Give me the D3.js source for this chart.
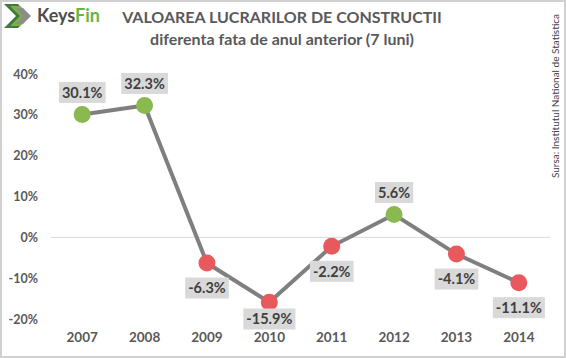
<!DOCTYPE html>
<html>
<head>
<meta charset="utf-8">
<script src="https://cdn.jsdelivr.net/npm/d3@7/dist/d3.min.js"></script>
<style>
  body { margin: 0; background: #fff; }
  text { font-family: Lato, "Open Sans", sans-serif; }
</style>
</head>
<body>
<div id="chart"></div>
<script>
const years = ["2007", "2008", "2009", "2010", "2011", "2012", "2013", "2014"]
const values = [30.1, 32.3, -6.3, -15.9, -2.2, 5.6, -4.1, -11.1]
const labelSide = ["up", "up", "down", "down", "down", "up", "down", "down"]
const yTicks = [-20, -10, 0, 10, 20, 30, 40]

const W = 566, H = 358
const MARGIN = { TOP: 74, BOTTOM: 39, LEFT: 51, RIGHT: 16 }

const svg = d3.select("#chart").append("svg")
  .attr("width", W).attr("height", H)

// frame
svg.append("rect")
  .attr("x", 1).attr("y", 1).attr("width", W - 2).attr("height", H - 2)
  .attr("fill", "#fff").attr("stroke", "#d0d0d0").attr("stroke-width", 2)

const x = d3.scaleBand()
  .domain(years)
  .range([MARGIN.LEFT, W - MARGIN.RIGHT])

const y = d3.scaleLinear()
  .domain([-20, 40])
  .range([319, 74])

const cx = d => x(d) + x.bandwidth() / 2

// zero line
svg.append("line")
  .attr("x1", x.range()[0]).attr("x2", x.range()[1])
  .attr("y1", y(0)).attr("y2", y(0))
  .attr("stroke", "#d9d9d9").attr("stroke-width", 1)

// y axis
const yAxis = svg.append("g")
  .attr("transform", `translate(${MARGIN.LEFT - 13},0)`)
  .call(d3.axisLeft(y).tickValues(yTicks).tickFormat(d => d + "%").tickSize(0).tickPadding(0))
yAxis.select(".domain").remove()
yAxis.selectAll("text")
  .attr("font-family", "Lato, sans-serif")
  .attr("font-size", 12.5).attr("font-weight", "bold").attr("fill", "#595959")

// x axis
const xAxis = svg.append("g")
  .attr("transform", `translate(0,${332})`)
  .call(d3.axisBottom(x).tickSize(0).tickPadding(0))
xAxis.select(".domain").remove()
xAxis.selectAll("text")
  .attr("font-family", "Lato, sans-serif")
  .attr("font-size", 13.5).attr("font-weight", "bold").attr("fill", "#595959")

const pts = years.map((yr, i) => ({ yr, v: values[i], side: labelSide[i] }))

// line
svg.append("path")
  .datum(pts)
  .attr("fill", "none")
  .attr("stroke", "#7f7f7f")
  .attr("stroke-width", 4)
  .attr("d", d3.line().x(d => cx(d.yr)).y(d => y(d.v)))

// markers
svg.selectAll("circle.pt")
  .data(pts)
  .enter().append("circle")
    .attr("class", "pt")
    .attr("cx", d => cx(d.yr))
    .attr("cy", d => y(d.v))
    .attr("r", 8.5)
    .attr("fill", d => d.v >= 0 ? "#8ab94f" : "#e8595d")

// data labels (kept above the x axis labels)
const labelY = d => d.side === "up" ? y(d.v) - 22 : Math.min(y(d.v) + 25, y(-20))
const lab = svg.selectAll("g.lab")
  .data(pts)
  .enter().append("g")
    .attr("class", "lab")
    .attr("transform", d => `translate(${cx(d.yr)},${labelY(d)})`)

lab.append("text")
  .attr("text-anchor", "middle")
  .attr("dy", "0.36em")
  .attr("font-size", 14.5)
  .attr("font-weight", "bold")
  .attr("fill", "#404040")
  .text(d => d.v.toFixed(1) + "%")
  .each(function () {
    const b = this.getBBox()
    d3.select(this.parentNode).insert("rect", "text")
      .attr("x", b.x - 3).attr("y", -10.5)
      .attr("width", b.width + 6).attr("height", 21)
      .attr("fill", "#d9d9d9")
  })

// title
svg.append("text")
  .attr("x", 282).attr("y", 23)
  .attr("text-anchor", "middle")
  .attr("font-size", 16).attr("font-weight", "bold").attr("fill", "#595959")
  .text("VALOAREA LUCRARILOR DE CONSTRUCTII")
svg.append("text")
  .attr("x", 282).attr("y", 45)
  .attr("text-anchor", "middle")
  .attr("font-size", 16).attr("font-weight", "bold").attr("fill", "#595959")
  .text("diferenta fata de anul anterior (7 luni)")

// source
svg.append("text")
  .attr("transform", "translate(559,96) rotate(-90)")
  .attr("text-anchor", "middle")
  .attr("font-size", 10).attr("fill", "#404040")
  .text("Sursa: Institutul National de Statistica")

// logo
const logo = svg.append("g").attr("transform", "translate(4,4)")
logo.append("path").attr("d", "M0,0 L14,0 L26,12 L14,24 L0,24 L12,12 Z").attr("fill", "#3d7a3d")
logo.append("path").attr("d", "M6,2 L16,2 L26,12 L16,22 L6,22 L16,12 Z").attr("fill", "#7fae4a")
logo.append("path").attr("d", "M12,4 L19,4 L27,12 L19,20 L12,20 L19,12 Z").attr("fill", "#8c8c8c")
logo.append("text")
  .attr("x", 33).attr("y", 18)
  .attr("font-size", 18).attr("font-weight", "bold")
  .call(t => {
    t.append("tspan").attr("fill", "#4d4d4d").text("Keys")
    t.append("tspan").attr("fill", "#6cb33f").text("Fin")
  })
</script>
</body>
</html>
